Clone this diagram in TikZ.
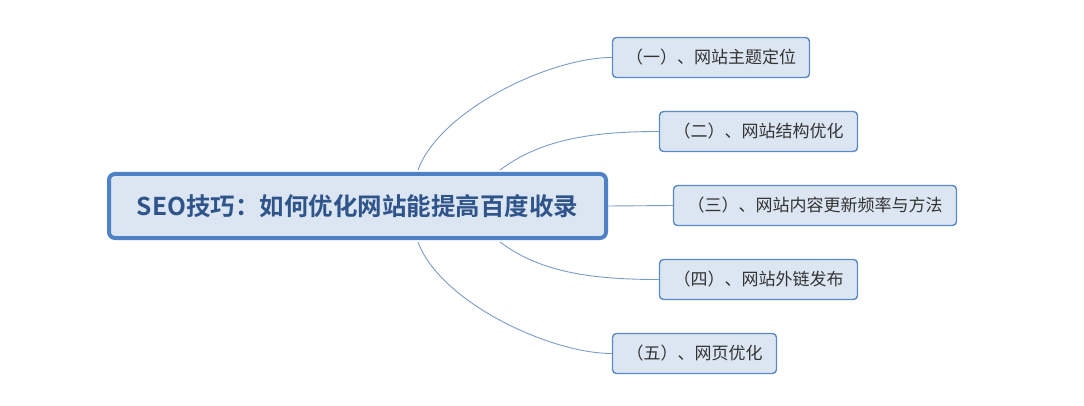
\documentclass[tikz,border=0pt]{standalone}
\usepackage{fontspec}
\newfontfamily\cjk{Noto Sans CJK SC}
\newfontfamily\cjkb{Noto Sans CJK SC Bold}
\usetikzlibrary{calc}
\definecolor{mainborder}{HTML}{4F81C6}
\definecolor{boxfill}{HTML}{DCE6F2}
\definecolor{maintext}{HTML}{2F548A}
\definecolor{subborder}{HTML}{5A8AC6}
\definecolor{subtext}{HTML}{333333}
\definecolor{linkcol}{HTML}{7C9CC8}
\tikzset{
  mainbox/.style={draw=mainborder, line width=4pt, fill=boxfill, rounded corners=6pt,
    minimum width=497pt, minimum height=64pt, inner sep=0pt,
    font=\cjkb\fontsize{24.5}{28}\selectfont, text=maintext},
  subbox/.style={draw=subborder, line width=1.4pt, fill=boxfill, rounded corners=4pt,
    minimum height=40pt, inner sep=0pt,
    font=\cjk\fontsize{17}{20}\selectfont, text=subtext},
  link/.style={draw=linkcol, line width=0.9pt}
}
\begin{document}
\begin{tikzpicture}[x=1pt,y=-1pt]
\useasboundingbox[fill=white] (0,0) rectangle (1084,406);
\node[mainbox] (main) at (357.5,206) {SEO技巧：如何优化网站能提高百度收录};
\node[subbox, minimum width=197pt] (s1) at (711,57.5) {（一）、网站主题定位};
\node[subbox, minimum width=198pt] (s2) at (758.5,131.5) {（二）、网站结构优化};
\node[subbox, minimum width=283pt] (s3) at (815,205.5) {（三）、网站内容更新频率与方法};
\node[subbox, minimum width=198pt] (s4) at (758.5,279.5) {（四）、网站外链发布};
\node[subbox, minimum width=164pt] (s5) at (694.5,353.5) {（五）、网页优化};
\coordinate (a1) at (418,170);
\coordinate (a2) at (500,170);
\coordinate (a4) at (500,242);
\coordinate (a5) at (418,242);
\draw[link] (a1) .. controls (440,110) and (550,57.5) .. (s1.west);
\draw[link] (a2) .. controls (540,140) and (590,131.5) .. (s2.west);
\draw[link] (main.east) -- (s3.west);
\draw[link] (a4) .. controls (540,272) and (590,279.5) .. (s4.west);
\draw[link] (a5) .. controls (440,302) and (550,353.5) .. (s5.west);
\end{tikzpicture}
\end{document}
